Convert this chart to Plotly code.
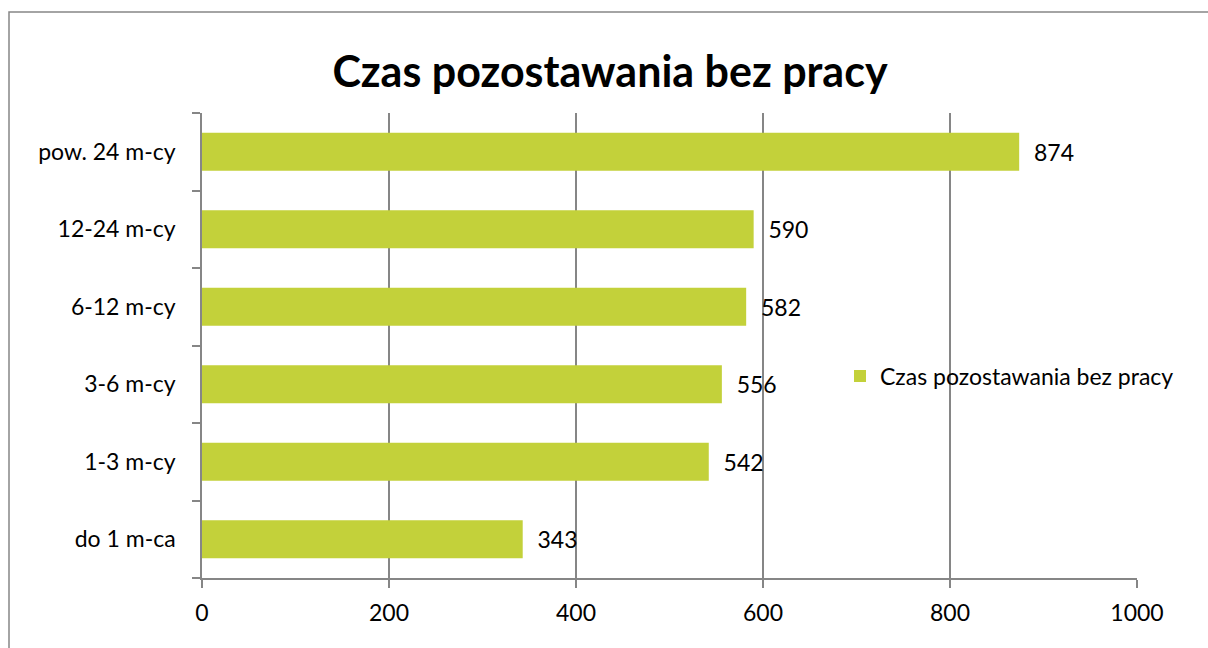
import plotly.graph_objects as go

categories = ["do 1 m-ca", "1-3 m-cy", "3-6 m-cy", "6-12 m-cy", "12-24 m-cy", "pow. 24 m-cy"]
values = [343, 542, 556, 582, 590, 874]
series_name = "Czas pozostawania bez pracy"
title_text = "Czas pozostawania bez pracy"
x_ticks = [0, 200, 400, 600, 800, 1000]

W, H = 1208, 648
L, R, T, B = 202, 1137, 113, 578

FONT = "Lato, Calibri, Carlito, sans-serif"
GRAY = "#868686"
BAR = "#C3D13A"
FS = 23

fig = go.Figure()
fig.add_trace(go.Bar(
    y=categories, x=values, orientation="h", name=series_name,
    marker=dict(color=BAR, line=dict(width=0)),
    text=["\u00a0\u00a0" + str(v) for v in values], textposition="outside",
    textfont=dict(size=FS, color="#000000", family=FONT),
    cliponaxis=False, width=0.49, showlegend=True,
))

def px_x(p):
    return (p - L) / (R - L)

def px_y(p):
    return (B - p) / (B - T)

fig.update_layout(
    width=W, height=H,
    margin=dict(l=L, r=W - R, t=T, b=H - B, pad=0),
    paper_bgcolor="white", plot_bgcolor="white",
    font=dict(family=FONT, size=FS, color="#000000"),
    title=dict(text="<b>" + title_text + "</b>", x=px_x(610), xref="paper", xanchor="center",
               y=1 - 72 / H, yanchor="middle", font=dict(size=43, family=FONT, color="#000000")),
    xaxis=dict(range=[0, 1000], tickvals=x_ticks, showgrid=True, gridcolor=GRAY, gridwidth=1.5,
               showline=True, linecolor=GRAY, linewidth=1.5, ticks="outside", ticklen=8,
               tickcolor=GRAY, tickwidth=1.5, zeroline=False, tickfont=dict(size=FS),
               ticklabelstandoff=6, fixedrange=True),
    yaxis=dict(showgrid=False, showline=True, linecolor=GRAY, linewidth=1.5,
               ticks="outside", ticklen=8, tickcolor=GRAY, tickwidth=1.5,
               tickson="boundaries", tickfont=dict(size=FS), ticklabelstandoff=20,
               zeroline=False, fixedrange=True),
    legend=dict(x=px_x(840), y=px_y(376), xanchor="left", yanchor="middle",
                bgcolor="rgba(0,0,0,0)", font=dict(size=FS), itemwidth=30),
    bargap=0.51,
    shapes=[dict(type="rect", xref="paper", yref="paper",
                 x0=px_x(9), x1=px_x(1220), y0=px_y(12), y1=px_y(660),
                 line=dict(color=GRAY, width=1.5), fillcolor="rgba(0,0,0,0)", layer="below")],
)

fig.write_html("out.html", config={"displayModeBar": False},
               post_script="document.body.style.margin='0';document.body.style.overflow='hidden';")
